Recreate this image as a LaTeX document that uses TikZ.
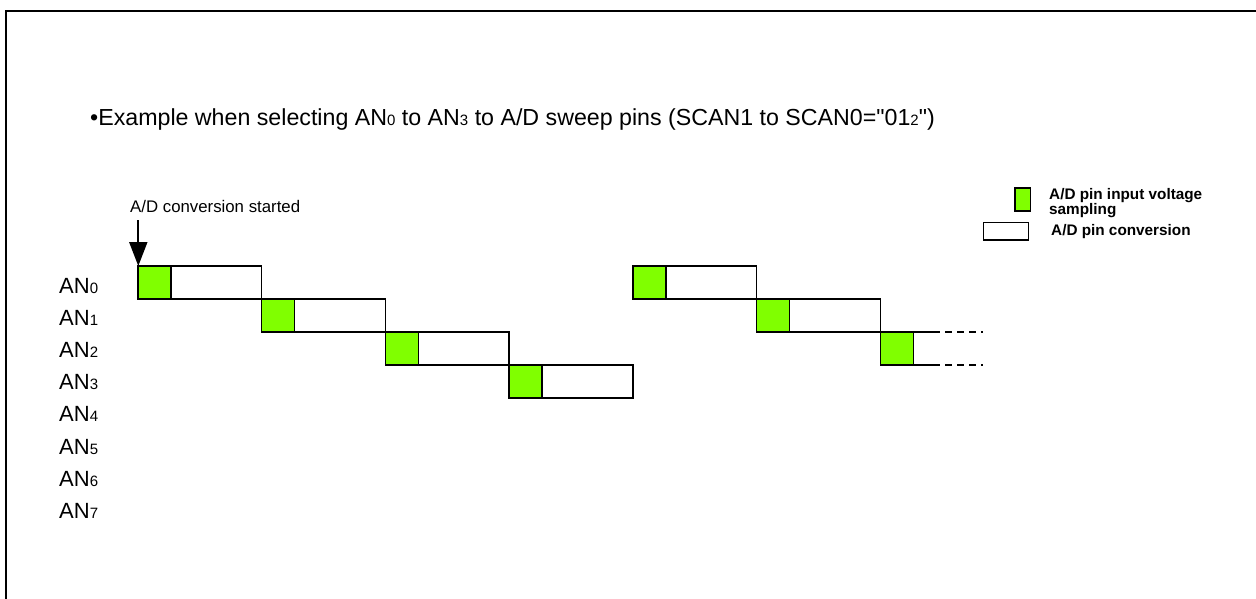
\documentclass[tikz,border=0pt]{standalone}
\usepackage{fontspec}
\setmainfont{Liberation Sans}[Ligatures=TeXOff]
\usetikzlibrary{arrows.meta}
\definecolor{sampgreen}{RGB}{128,255,0}
\newcommand\mysubdig[1]{{\fontsize{15}{17}\selectfont #1}}
\begin{document}
\begin{tikzpicture}[x=1pt,y=-1pt,
  samp/.style={draw=black,line width=1.5pt,fill=sampgreen,minimum width=33pt,minimum height=33pt,inner sep=0pt,outer sep=0pt,anchor=north west},
  conv/.style={draw=black,line width=1.5pt,fill=white,minimum width=90.7pt,minimum height=33pt,inner sep=0pt,outer sep=0pt,anchor=north west},
  anlabel/.style={anchor=base west,inner sep=0pt,font=\fontsize{22}{26}\selectfont},
  legtext/.style={anchor=base west,inner sep=0pt,font=\fontsize{15.3}{18}\selectfont\bfseries,align=left}
]
\useasboundingbox (0,0) rectangle (1256,598);
\begin{scope}
\clip (0,0) rectangle (1256,598);
\draw[line width=2pt] (6,10.5) rectangle (1280,630);
\end{scope}
% title
\node[anchor=base west,inner sep=0pt,font=\fontsize{23.2}{27}\selectfont] (title) at (90,125)
  {\textbullet Example when selecting AN\mysubdig{0} to AN\mysubdig{3} to A/D sweep pins (SCAN1 to SCAN0="01\mysubdig{2}")};
% start label
\node[anchor=base west,inner sep=0pt,font=\fontsize{16.8}{20}\selectfont] (start) at (130,212) {A/D conversion started};
% channel labels
\foreach \i in {0,...,7}{
  \node[anlabel] (an\i) at (59,{293+32.2*\i}) {AN\mysubdig{\i}};
}
% first sweep
\node[samp] (g0) at (138,266) {};
\node[conv] (c0) at (g0.north east) {};
\node[samp] (g1) at (c0.south east) {};
\node[conv] (c1) at (g1.north east) {};
\node[samp] (g2) at (c1.south east) {};
\node[conv] (c2) at (g2.north east) {};
\node[samp] (g3) at (c2.south east) {};
\node[conv] (c3) at (g3.north east) {};
% second sweep
\node[samp] (g4) at (633,266) {};
\node[conv] (c4) at (g4.north east) {};
\node[samp] (g5) at (c4.south east) {};
\node[conv] (c5) at (g5.north east) {};
\node[samp] (g6) at (c5.south east) {};
\coordinate (t1) at ([xshift=20pt]g6.north east);
\coordinate (t2) at ([xshift=70pt]g6.north east);
\coordinate (b1) at ([xshift=20pt]g6.south east);
\coordinate (b2) at ([xshift=70pt]g6.south east);
\draw[line width=1.5pt] (g6.north east) -- (t1);
\draw[line width=1.5pt] (g6.south east) -- (b1);
\draw[line width=1.5pt,dash pattern=on 7pt off 5pt] (t1) -- (t2);
\draw[line width=1.5pt,dash pattern=on 7pt off 5pt] (b1) -- (b2);
% start arrow
\coordinate (arrstart) at (138.3,220);
\draw[line width=2pt,-{Triangle[width=18pt,length=24pt]}] (arrstart) -- (arrstart |- g0.north);
% legend
\node[samp,minimum width=15.5pt,minimum height=23pt] (lg) at (1015,188) {};
\node[conv,minimum width=45pt,minimum height=17.5pt] (lc) at (983.5,222.5) {};
\node[legtext] (lgt) at (1049,199.5) {A/D pin input voltage};
\node[legtext] (lgt2) at (1049,214.5) {sampling};
\node[legtext] (lct) at (1051,235.5) {A/D pin conversion};
\end{tikzpicture}
\end{document}
